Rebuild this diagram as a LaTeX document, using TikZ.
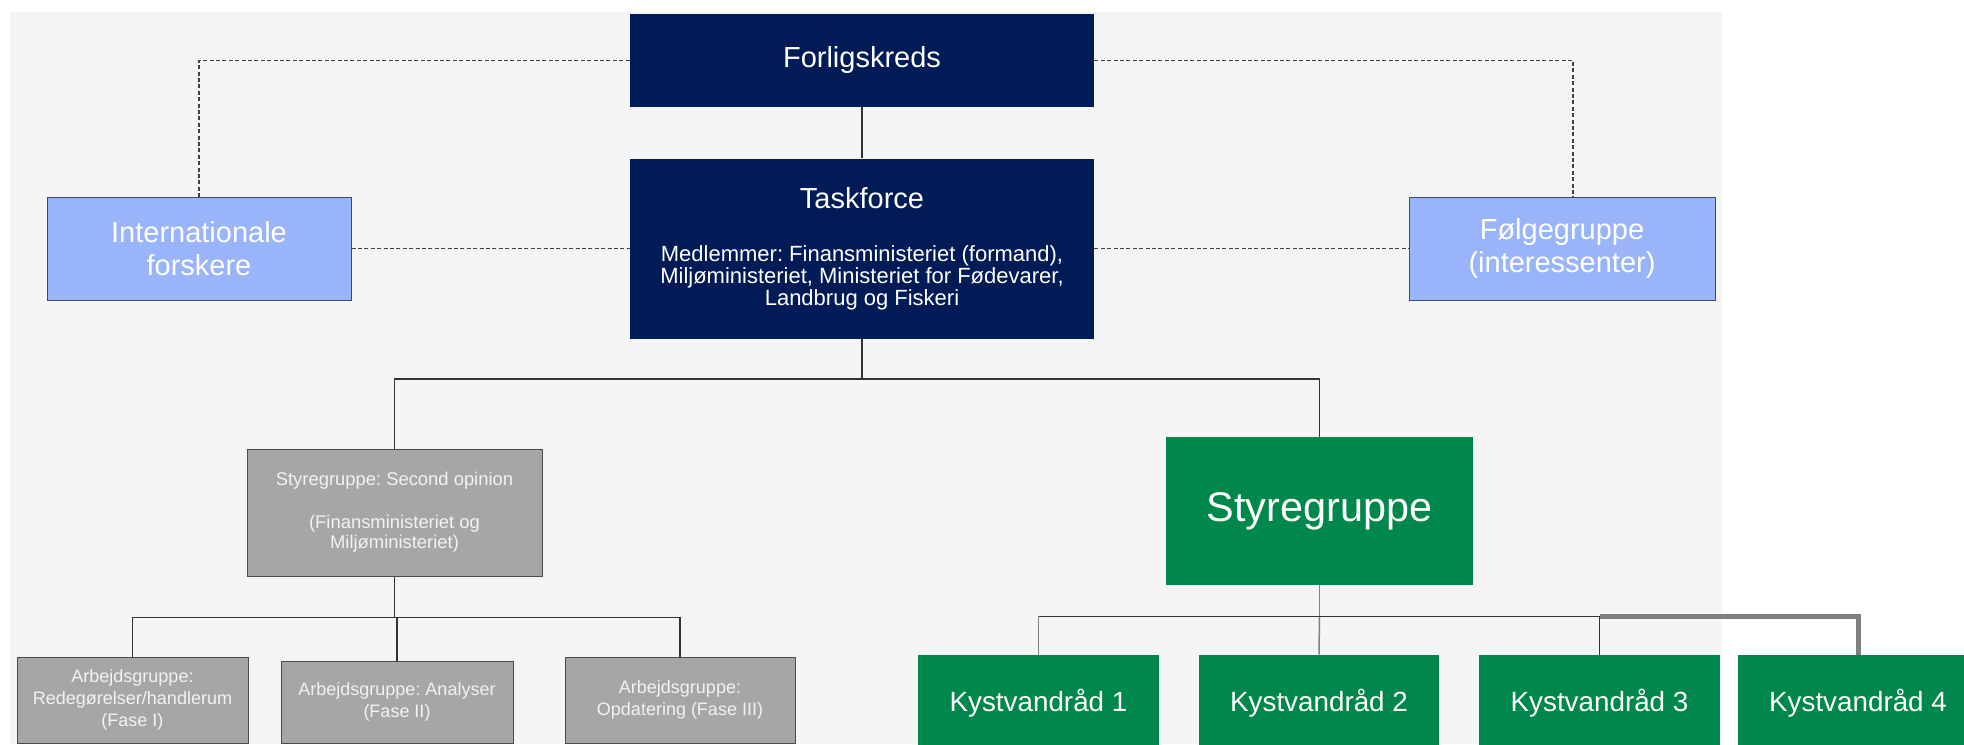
\documentclass[tikz,border=0pt]{standalone}
\usepackage{fontspec}
\setmainfont{Liberation Sans}
\usepackage{xcolor}
\usetikzlibrary{positioning}
\frenchspacing

\definecolor{fknavy}{HTML}{011B56}
\definecolor{lightblue}{HTML}{99B4F9}
\definecolor{blueframe}{HTML}{3B4A72}
\definecolor{boxgrey}{HTML}{A6A6A6}
\definecolor{kvgreen}{HTML}{00874B}
\definecolor{panel}{HTML}{F5F5F5}

\begin{document}
\begin{tikzpicture}[
    x=0.5pt, y=-0.5pt,
    box/.style = {inner sep=0pt, align=center, text=white},
    navybox/.style = {box, fill=fknavy, minimum width=232pt},
    bluebox/.style = {box, fill=lightblue, draw=blueframe, line width=0.5pt, minimum height=51.5pt, font=\fontsize{14.5}{16.5}\selectfont},
    greybox/.style = {box, fill=boxgrey, draw=black!70, line width=0.5pt, text=white!95!black},
    greenbox/.style = {box, fill=kvgreen},
    link/.style = {draw=black!80, line width=0.75pt},
    glink/.style = {draw=black!50, line width=0.75pt},
    thicklink/.style = {draw=black!50, line width=2.5pt},
    dots/.style = {draw=black!75, line width=0.6pt, dash pattern=on 2pt off 1.2pt}
]
\useasboundingbox (0,0) rectangle (1964,744);
\fill[panel] (10,12) rectangle (1722,744);

\node (fk) [navybox, minimum height=46.5pt, font=\fontsize{14.5}{17}\selectfont] at (862,60.5) {Forligskreds};
\node (tf) [navybox, minimum height=90pt, font=\fontsize{11}{11}\selectfont, below=25.5pt of fk] {{\fontsize{14.5}{17}\selectfont Taskforce}\\[15.5pt]
    Medlemmer: Finansministeriet (formand),\\ Miljøministeriet, Ministeriet for Fødevarer,\\ Landbrug og Fiskeri};
\node (intl) [bluebox, minimum width=152pt] at (199,248.5) {Internationale\\forskere};
\node (fg) [bluebox, minimum width=153pt] at (1562,248.5) {Følgegruppe\\(interessenter)};

\node (so) [greybox, minimum width=147.5pt, minimum height=63.5pt, font=\fontsize{9.2}{10}\selectfont] at (394.5,512.5)
    {Styregruppe: Second opinion\\[11.5pt](Finansministeriet og\\Miljøministeriet)};
\node (ag1) [greybox, minimum width=115.5pt, minimum height=43pt, font=\fontsize{9}{11}\selectfont] at (132.5,700)
    {Arbejdsgruppe:\\Redegørelser/handlerum\\(Fase I)};
\node (ag2) [greybox, minimum width=116pt, minimum height=41pt, font=\fontsize{9}{11}\selectfont] at (397,702)
    {Arbejdsgruppe: Analyser\\(Fase II)};
\node (ag3) [greybox, minimum width=115pt, minimum height=43pt, font=\fontsize{9}{11}\selectfont] at (680,700)
    {Arbejdsgruppe:\\Opdatering (Fase III)};

\node (sg) [greenbox, minimum width=153.5pt, minimum height=74pt, font=\fontsize{20.7}{24}\selectfont] at (1319.5,511) {Styregruppe};
\node (kv1) [greenbox, minimum width=120.5pt, minimum height=48pt, font=\fontsize{13.9}{16}\selectfont] at (1038.5,703) {Kystvandråd 1};
\node (kv2) [greenbox, minimum width=120pt, minimum height=48pt, font=\fontsize{13.9}{16}\selectfont] at (1319,703) {Kystvandråd 2};
\node (kv3) [greenbox, minimum width=120.5pt, minimum height=48pt, font=\fontsize{13.9}{16}\selectfont] at (1599.5,703) {Kystvandråd 3};
\node (kv4) [greenbox, minimum width=120pt, minimum height=48pt, font=\fontsize{13.9}{16}\selectfont] at (1858,703) {Kystvandråd 4};

\draw[dots] (fk.west) -| (intl.north);
\draw[dots] (fk.east) -| ([xshift=5.5pt]fg.north);
\draw[dots] (intl.east) -- (intl.east -| tf.west);
\draw[dots] (tf.east) -- (tf.east -| fg.west);

\draw[link] (fk) -- (tf);
\draw[link] (tf.south) -- ++(0,40) coordinate (tbus) -| (sg.north);
\draw[link] (tbus) -| (so.north);

\draw[link] (so.south) -- ++(0,41) coordinate (sbus);
\draw[link] (sbus) -| (ag1.north);
\draw[link] (sbus) -| (ag2.north);
\draw[link] (sbus) -| (ag3.north);

\draw[glink] (sg.south) -- ++(0,31) coordinate (gbus);
\draw[glink] (gbus) -| (kv1.north);
\draw[glink] (gbus) -- (kv2.north);
\draw[link] (gbus -| kv1.north) -- (gbus) -| (kv3.north);
\draw[thicklink] (gbus -| kv3.north) -| (kv4.north);
\end{tikzpicture}
\end{document}
